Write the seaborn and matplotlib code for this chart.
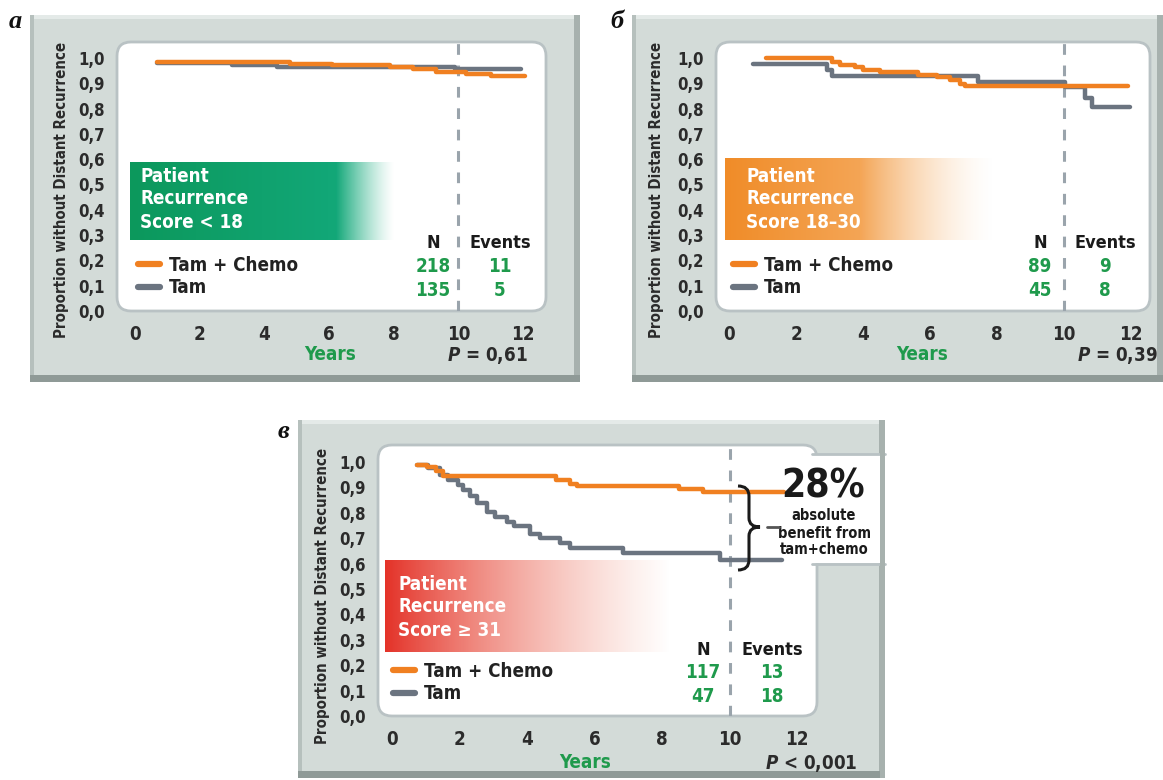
import numpy as np
import pandas as pd
import matplotlib
matplotlib.use("Agg")
import matplotlib.pyplot as plt
import seaborn as sns
from matplotlib.patches import FancyBboxPatch, Rectangle, PathPatch
from matplotlib.path import Path
from matplotlib.transforms import Affine2D
from matplotlib.lines import Line2D

# ---------------- data ----------------
x_ticks = [0, 2, 4, 6, 8, 10, 12]
y_ticks = [0.0, 0.1, 0.2, 0.3, 0.4, 0.5, 0.6, 0.7, 0.8, 0.9, 1.0]
y_tick_labels = ["0,0", "0,1", "0,2", "0,3", "0,4", "0,5", "0,6", "0,7", "0,8", "0,9", "1,0"]
arm_names = ["Tam + Chemo", "Tam"]

# panel a  (Recurrence Score < 18)
a_chemo_years = [0.68, 4.8, 6.1, 7.9, 8.6, 9.3, 10.25, 11.0, 12.05]
a_chemo_surv = [0.985, 0.978, 0.972, 0.965, 0.955, 0.945, 0.937, 0.927, 0.927]
a_tam_years = [0.68, 3.0, 4.4, 9.9, 11.95]
a_tam_surv = [0.982, 0.972, 0.963, 0.957, 0.957]
a_n = ["218", "135"]
a_events = ["11", "5"]
a_p = r"$P$ = 0,61"
a_title = ["Patient", "Recurrence", "Score < 18"]

# panel b  (Recurrence Score 18-30)
b_chemo_years = [1.1, 3.07, 3.3, 3.76, 4.0, 4.5, 5.65, 6.2, 6.6, 6.9, 7.05, 11.9]
b_chemo_surv = [1.0, 0.985, 0.972, 0.965, 0.953, 0.944, 0.933, 0.924, 0.913, 0.898, 0.89, 0.89]
b_tam_years = [0.72, 2.92, 3.07, 7.44, 10.03, 10.63, 10.83, 11.97]
b_tam_surv = [0.976, 0.953, 0.929, 0.906, 0.887, 0.84, 0.807, 0.807]
b_n = ["89", "45"]
b_events = ["9", "8"]
b_p = r"$P$ = 0,39"
b_title = ["Patient", "Recurrence", "Score 18\u201330"]

# panel c  (Recurrence Score >= 31)
c_chemo_years = [0.73, 1.05, 1.3, 1.5, 4.87, 5.27, 5.47, 8.5, 9.22, 11.6]
c_chemo_surv = [0.99, 0.98, 0.965, 0.945, 0.93, 0.915, 0.905, 0.895, 0.88, 0.88]
c_tam_years = [0.73, 1.08, 1.42, 1.67, 1.96, 2.11, 2.31, 2.51, 2.8, 3.05, 3.4, 3.6,
               4.1, 4.38, 4.98, 5.27, 6.85, 9.72, 11.55]
c_tam_surv = [0.99, 0.975, 0.95, 0.93, 0.91, 0.89, 0.865, 0.84, 0.805, 0.785, 0.765, 0.75,
              0.715, 0.70, 0.68, 0.66, 0.64, 0.615, 0.615]
c_n = ["117", "47"]
c_events = ["13", "18"]
c_p = r"$P$ < 0,001"
c_title = ["Patient", "Recurrence", "Score \u2265 31"]
c_benefit = ["28%", "absolute", "benefit from", "tam+chemo"]

# ---------------- style ----------------
ORANGE = "#f08021"
GRAY = "#6b7480"
GREEN_TXT = "#1f9a4c"
DASH = "#9aa4ac"
TICK = "#9ea7ab"
BORDER = "#b9c2c4"
FRAME = "#d3dbd8"
DARK = "#2b2b2b"

W, H = 1163, 780
sns.set_style("white")
plt.rcParams.update({
    "font.family": ["DejaVu Sans"],
    "font.stretch": "condensed",
    "font.weight": "bold",
    "mathtext.fontset": "custom",
    "mathtext.it": "DejaVu Sans:italic:bold",
    "mathtext.rm": "DejaVu Sans:bold",
})

fig = plt.figure(figsize=(W / 100, H / 100), dpi=100)
fig.patch.set_facecolor("white")
PX = Affine2D().scale(1 / W, -1 / H).translate(0, 1) + fig.transFigure


def draw_frame(x0, y0, x1, y1):
    fig.add_artist(Rectangle((x0, y0), x1 - x0, y1 - y0, transform=PX, fc=FRAME, ec="none", zorder=-3))
    fig.add_artist(Rectangle((x0, y0), x1 - x0, 4, transform=PX, fc="#e4eae8", ec="none", zorder=-2.9))
    fig.add_artist(Rectangle((x0, y0), 4, y1 - y0, transform=PX, fc="#b6c0bd", ec="none", zorder=-2.9))
    fig.add_artist(Rectangle((x1 - 6, y0), 6, y1 - y0, transform=PX, fc="#a7b1ae", ec="none", zorder=-2.9))
    fig.add_artist(Rectangle((x0, y1 - 7), x1 - x0, 7, transform=PX, fc="#8f9a97", ec="none", zorder=-2.8))


def grad_box(x0, y0, x1, y1, rgb_left, rgb_right, alpha_fn):
    w, h = int(x1 - x0), int(y1 - y0)
    t = np.linspace(0, 1, w)
    cl = np.array(rgb_left) / 255.0
    cr = np.array(rgb_right) / 255.0
    col = cl[None, :] * (1 - t[:, None]) + cr[None, :] * t[:, None]
    a = alpha_fn(t)
    rgba = np.ones((h, w, 4))
    rgba[:, :, :3] = col[None, :, :]
    rgba[:, :, 3] = a[None, :]
    fig.figimage(rgba, xo=int(x0), yo=int(H - y1), origin="upper", zorder=-0.5)


def panel(cfg):
    draw_frame(*cfg["frame"])
    bl, bt, br, bb = cfg["box"]
    fig.add_artist(FancyBboxPatch((bl, bt), br - bl, bb - bt, boxstyle="round,pad=0,rounding_size=14",
                                  transform=PX, fc="white", ec=BORDER, lw=2, zorder=-1))
    ax = fig.add_axes([bl / W, 1 - bb / H, (br - bl) / W, (bb - bt) / H])
    ax.set_facecolor("none")
    x0, xs, y0, ys = cfg["scale"]
    ax.set_xlim((bl - x0) / xs, (br - x0) / xs)
    ax.set_ylim((y0 - bb) / ys, (y0 - bt) / ys)

    df = pd.concat([
        pd.DataFrame({"years": cfg["tam"][0], "surv": cfg["tam"][1], "arm": arm_names[1]}),
        pd.DataFrame({"years": cfg["chemo"][0], "surv": cfg["chemo"][1], "arm": arm_names[0]}),
    ], ignore_index=True)
    ax.axvline(10, color=DASH, lw=2.2, ls=(0, (3.5, 3.5)), zorder=1)
    sns.lineplot(data=df, x="years", y="surv", hue="arm", hue_order=[arm_names[1], arm_names[0]],
                 palette={arm_names[0]: ORANGE, arm_names[1]: GRAY}, drawstyle="steps-post",
                 estimator=None, sort=False, lw=3.2, legend=False, ax=ax, zorder=3)

    ax.set_xticks(x_ticks)
    ax.set_xticklabels([str(v) for v in x_ticks])
    ax.set_yticks(y_ticks)
    ax.set_yticklabels(y_tick_labels)
    for sp in ax.spines.values():
        sp.set_visible(False)
    ax.spines["bottom"].set_position(("outward", 3))
    ax.tick_params(axis="both", direction="out", color=TICK, width=2.5, labelcolor=DARK)
    ax.tick_params(axis="y", length=6, pad=3, labelsize=12)
    ax.tick_params(axis="x", length=6, pad=1, labelsize=13.5)
    ax.set_xlabel("")
    ax.set_ylabel("")

    # y label
    lx, ly = cfg["ylabel"]
    fig.text(lx, ly, "Proportion without Distant Recurrence", rotation=90, ha="center", va="center",
             fontsize=10.8, color=DARK, transform=PX)
    # Years / P
    fig.text(*cfg["years_lbl"], "Years", ha="center", va="center", fontsize=13.5, color=GREEN_TXT, transform=PX)
    px_, py_ = cfg["p_pos"]
    fig.text(px_, py_, cfg["p"], ha="right", va="center", fontsize=13.5, color=DARK, transform=PX)
    # panel letter
    fig.text(*cfg["letter_pos"], cfg["letter"], ha="center", va="center", fontsize=19,
             family="Liberation Serif", style="italic", weight="bold", stretch="normal", color="#111", transform=PX)

    # gradient box + text
    gx0, gy0, gx1, gy1 = cfg["gbox"]
    grad_box(gx0, gy0, gx1, gy1, cfg["g_left"], cfg["g_right"], cfg["g_alpha"])
    tx, ty0, dy = cfg["gtext"]
    for i, line in enumerate(cfg["title"]):
        fig.text(tx, ty0 + i * dy, line, ha="left", va="center", fontsize=13.5, color="white", transform=PX)

    # legend
    handles = [Line2D([], [], color=ORANGE, lw=4.5), Line2D([], [], color=GRAY, lw=4.5)]
    ax.legend(handles, arm_names, loc="upper left", bbox_to_anchor=cfg["legend"], bbox_transform=PX,
              frameon=False, fontsize=13.5, handlelength=1.15, handletextpad=0.5, labelspacing=0.18,
              borderpad=0, borderaxespad=0, labelcolor="#222")

    # N / Events table
    nx, ex, hy, r1, r2 = cfg["table"]
    fig.text(nx, hy, "N", ha="center", va="center", fontsize=13, color="#1a1a1a", transform=PX)
    fig.text(ex, hy, "Events", ha="center", va="center", fontsize=13, color="#1a1a1a", transform=PX)
    for yy, n, e in zip([r1, r2], cfg["n"], cfg["events"]):
        fig.text(nx, yy, n, ha="center", va="center", fontsize=13.5, color=GREEN_TXT, transform=PX)
        fig.text(ex, yy, e, ha="center", va="center", fontsize=13.5, color=GREEN_TXT, transform=PX)
    return ax


cfg_a = dict(frame=(30, 15, 580, 382), box=(117, 42, 546, 311), scale=(135, 32.33, 311, 253),
             chemo=(a_chemo_years, a_chemo_surv), tam=(a_tam_years, a_tam_surv),
             ylabel=(62, 190), years_lbl=(330, 355), p_pos=(528, 355), p=a_p,
             letter=u"\u0430", letter_pos=(15, 22),
             gbox=(130, 162, 395, 240), g_left=(12, 152, 92), g_right=(20, 172, 128),
             g_alpha=lambda t: np.clip((1 - t) / 0.22, 0, 1) ** 1.3,
             gtext=(140, 176, 23), title=a_title, legend=(138, 256),
             table=(433, 500, 243, 267, 290), n=a_n, events=a_events)

cfg_b = dict(frame=(632, 15, 1163, 382), box=(716, 42, 1150, 311), scale=(729, 33.5, 311, 253),
             chemo=(b_chemo_years, b_chemo_surv), tam=(b_tam_years, b_tam_surv),
             ylabel=(657, 190), years_lbl=(922, 355), p_pos=(1158, 355), p=b_p,
             letter=u"\u0431", letter_pos=(617, 22),
             gbox=(725, 158, 995, 240), g_left=(240, 140, 40), g_right=(248, 190, 130),
             g_alpha=lambda t: np.clip((1 - t) / 0.5, 0, 1) ** 1.4,
             gtext=(746, 176, 23), title=b_title, legend=(733, 256),
             table=(1040, 1105, 243, 267, 290), n=b_n, events=b_events)

cfg_c = dict(frame=(298, 420, 885, 778), box=(378, 445, 817, 716), scale=(392, 33.75, 716, 254),
             chemo=(c_chemo_years, c_chemo_surv), tam=(c_tam_years, c_tam_surv),
             ylabel=(322, 596), years_lbl=(585, 763), p_pos=(857, 763), p=c_p,
             letter=u"\u0432", letter_pos=(283, 432),
             gbox=(385, 560, 670, 652), g_left=(228, 50, 40), g_right=(245, 170, 150),
             g_alpha=lambda t: np.clip(1 - t, 0, 1) ** 0.9,
             gtext=(398, 584, 23), title=c_title, legend=(393, 662),
             table=(703, 772, 650, 673, 697), n=c_n, events=c_events)

panel(cfg_a)
panel(cfg_b)
ax_c = panel(cfg_c)

# white extension of panel c box (annotation area)
fig.add_artist(Rectangle((810, 455), 75, 108, transform=PX, fc="white", ec="none", zorder=-0.9))
fig.add_artist(Line2D([812, 885], [454, 454], transform=PX, color=BORDER, lw=2, zorder=-0.8))
fig.add_artist(Line2D([812, 885], [564, 564], transform=PX, color=BORDER, lw=2, zorder=-0.8))
fig.add_artist(Rectangle((880, 420), 5, 358, transform=PX, fc="#a7b1ae", ec="none", zorder=-0.7))

# brace
verts = [(738, 486), (749, 486), (749, 496),
         (749, 518),
         (749, 527), (760, 527),
         (749, 527), (749, 536),
         (749, 560),
         (749, 570), (738, 570)]
codes = [Path.MOVETO, Path.CURVE3, Path.CURVE3, Path.LINETO, Path.CURVE3, Path.CURVE3,
         Path.CURVE3, Path.CURVE3, Path.LINETO, Path.CURVE3, Path.CURVE3]
fig.add_artist(PathPatch(Path(verts, codes), transform=PX, fc="none", ec="#1a1a1a", lw=2.2, zorder=4))
fig.add_artist(Line2D([767, 779], [527, 527], transform=PX, color="#555", lw=2, zorder=4))

fig.text(823, 487, c_benefit[0], ha="center", va="center", fontsize=28, color="#1a1a1a", transform=PX)
for yy, s in zip([515, 533, 550], c_benefit[1:]):
    fig.text(824, yy, s, ha="center", va="center", fontsize=10.5, color="#1a1a1a", transform=PX)

fig.savefig("out.png", dpi=100, facecolor="white")
